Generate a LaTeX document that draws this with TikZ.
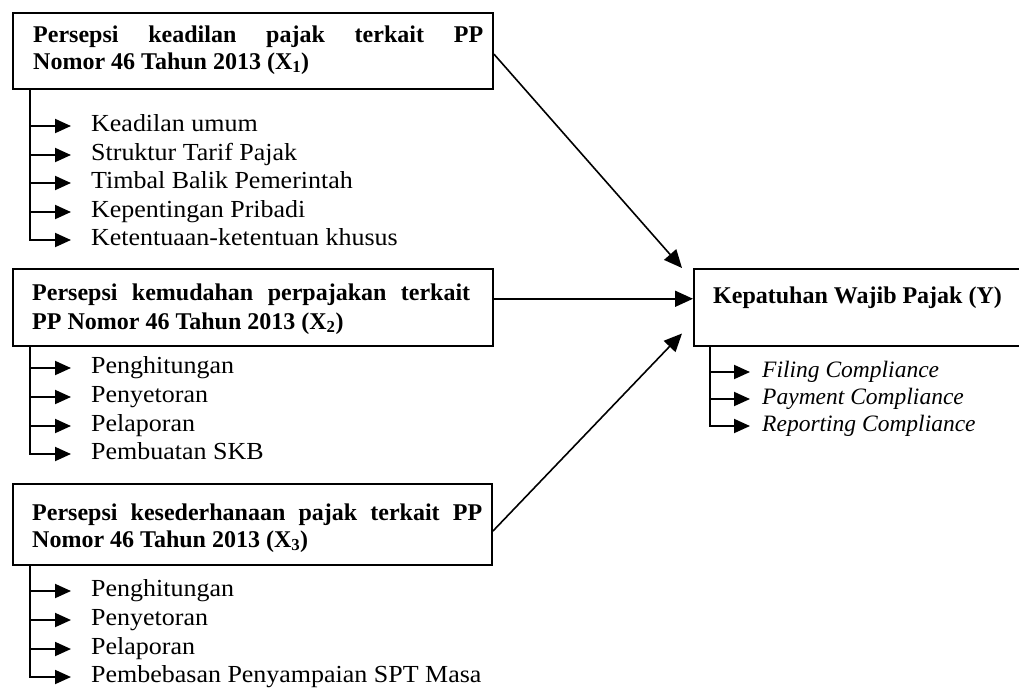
\documentclass[tikz,border=0pt]{standalone}
\usepackage{fontspec}
\setmainfont{Liberation Serif}
\newfontfamily\itemfont[FakeStretch=1.06]{Liberation Serif}
\usetikzlibrary{arrows.meta,calc}
\tikzset{
  box/.style={draw, line width=1.9pt, anchor=north west, inner sep=0pt},
  hd/.style={anchor=base west, inner sep=0pt, font=\fontsize{24pt}{28pt}\selectfont\bfseries},
  item/.style={anchor=base west, inner sep=0pt, font=\fontsize{24.5pt}{28pt}\itemfont},
  yitem/.style={anchor=base west, inner sep=0pt, font=\fontsize{23.5pt}{28pt}\selectfont\itshape},
  bul/.style={line width=1.9pt, -{Triangle[length=16pt,width=14pt]}},
  conn/.style={line width=1.6pt, -{Triangle[length=18pt,width=16pt]}},
}
\begin{document}
\begin{tikzpicture}[x=1pt,y=-1pt]
\path[use as bounding box, clip] (0,0) rectangle (1019,691);

% ---------- X1 ----------
\node[box, minimum width=480pt, minimum height=76pt] (x1) at (12,12) {};
\node[hd] (x1a) at (33,42) {\makebox[450pt][s]{Persepsi keadilan pajak terkait PP}};
\node[hd] (x1b) at (33,69) {Nomor 46 Tahun 2013 (X\textsubscript{1})};
\coordinate (t1) at ($(x1.south west)+(18,0)$);
\node[item] (a1) at (91,131) {Keadilan umum};
\node[item] (a2) at (91,160) {Struktur Tarif Pajak};
\node[item] (a3) at (91,188) {Timbal Balik Pemerintah};
\node[item] (a4) at (91,217) {Kepentingan Pribadi};
\node[item] (a5) at (91,245) {Ketentuaan-ketentuan khusus};
\foreach \n in {a1,a2,a3,a4}
  \draw[bul] ($(t1 |- \n.base west)+(0,-5)$) -- ($(\n.base west)+(-20,-5)$);
\draw[bul] (t1) |- ($(a5.base west)+(-20,-5)$);

% ---------- X2 ----------
\node[box, minimum width=480pt, minimum height=77pt] (x2) at (12,268) {};
\node[hd] (x2a) at (32,300) {\makebox[438pt][s]{Persepsi kemudahan perpajakan terkait}};
\node[hd] (x2b) at (32,329) {PP Nomor 46 Tahun 2013 (X\textsubscript{2})};
\coordinate (t2) at ($(x2.south west)+(18,0)$);
\node[item] (b1) at (91,373) {Penghitungan};
\node[item] (b2) at (91,402) {Penyetoran};
\node[item] (b3) at (91,431) {Pelaporan};
\node[item] (b4) at (91,459) {Pembuatan SKB};
\foreach \n in {b1,b2,b3}
  \draw[bul] ($(t2 |- \n.base west)+(0,-5)$) -- ($(\n.base west)+(-20,-5)$);
\draw[bul] (t2) |- ($(b4.base west)+(-20,-5)$);

% ---------- X3 ----------
\node[box, minimum width=479pt, minimum height=81pt] (x3) at (12,483) {};
\node[hd] (x3a) at (32,520) {\makebox[450pt][s]{Persepsi kesederhanaan pajak terkait PP}};
\node[hd] (x3b) at (32,547) {Nomor 46 Tahun 2013 (X\textsubscript{3})};
\coordinate (t3) at ($(x3.south west)+(18,0)$);
\node[item] (c1) at (91,596) {Penghitungan};
\node[item] (c2) at (91,625) {Penyetoran};
\node[item] (c3) at (91,654) {Pelaporan};
\node[item] (c4) at (91,682) {Pembebasan Penyampaian SPT Masa};
\foreach \n in {c1,c2,c3}
  \draw[bul] ($(t3 |- \n.base west)+(0,-5)$) -- ($(\n.base west)+(-20,-5)$);
\draw[bul] (t3) |- ($(c4.base west)+(-20,-5)$);

% ---------- Y ----------
\node[box, minimum width=340pt, minimum height=77pt] (y) at (693,268) {};
\node[hd] (ya) at (713,303) {Kepatuhan Wajib Pajak (Y)};
\coordinate (ty) at ($(y.south west)+(17,0)$);
\node[yitem] (d1) at (762,377) {Filing Compliance};
\node[yitem] (d2) at (762,404) {Payment Compliance};
\node[yitem] (d3) at (762,431) {Reporting Compliance};
\foreach \n in {d1,d2}
  \draw[bul] ($(ty |- \n.base west)+(0,-5)$) -- ($(\n.base west)+(-12,-5)$);
\draw[bul] (ty) |- ($(d3.base west)+(-12,-5)$);

% ---------- main connectors ----------
\coordinate (in1) at ($(y.north west)+(-11,0)$);
\coordinate (in2) at ($(y.north west)!0.39!(y.south west)$);
\coordinate (in3) at ($(y.north west)!0.83!(y.south west)+(-11,0)$);
\draw[conn] ($(x1.north east)!0.54!(x1.south east)$) -- (in1);
\draw[conn] ($(x2.north east)!0.39!(x2.south east)$) -- (in2);
\draw[conn] ($(x3.north east)!0.58!(x3.south east)$) -- (in3);
\end{tikzpicture}
\end{document}
